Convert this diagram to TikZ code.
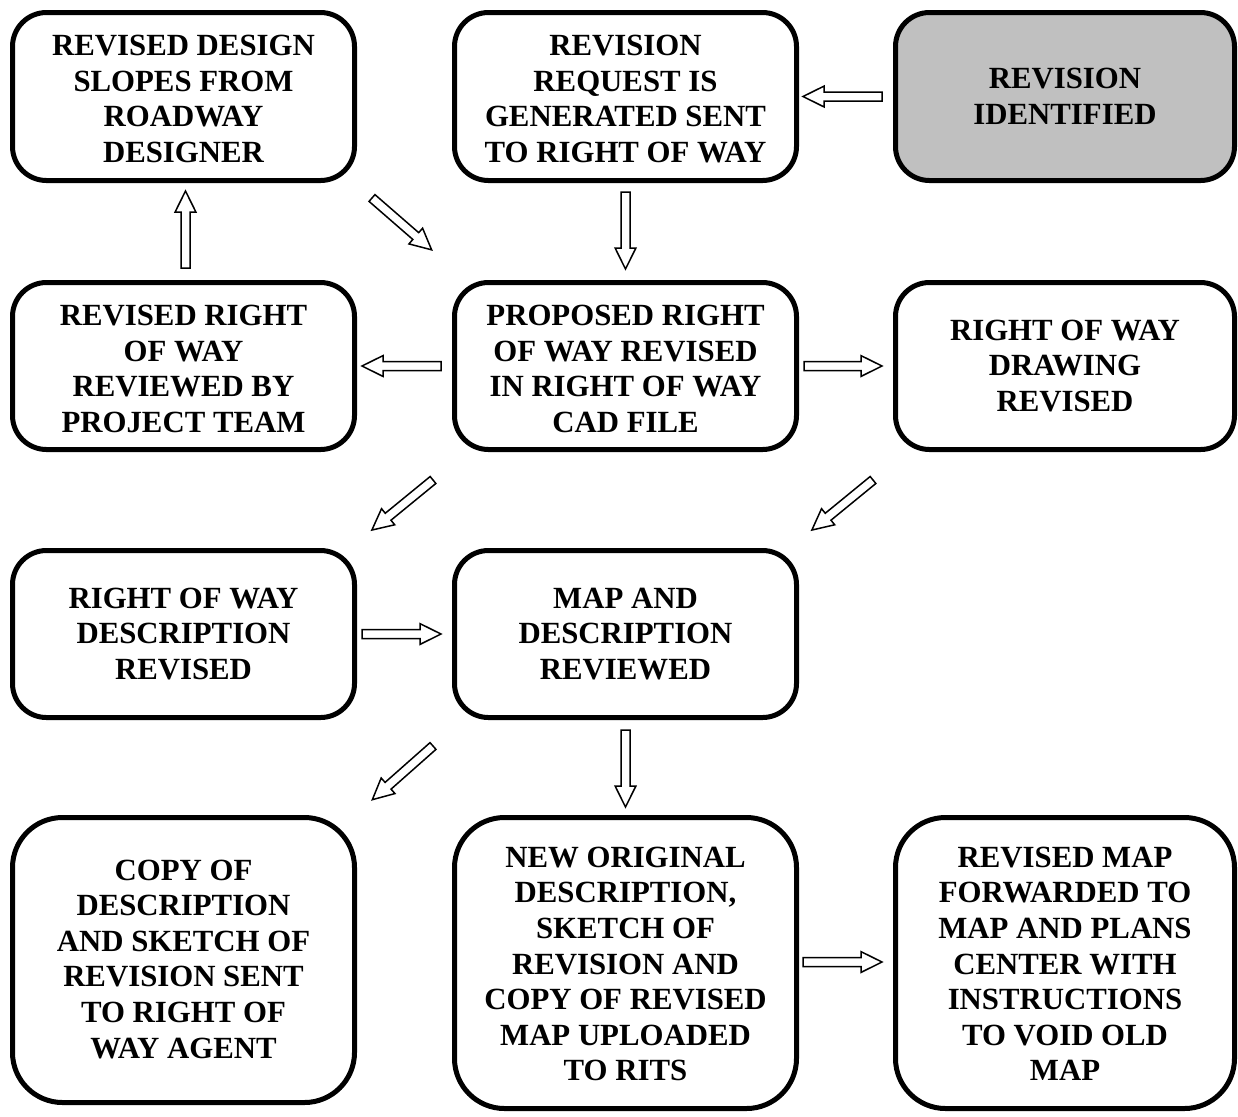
\documentclass[tikz,border=0pt]{standalone}
\usepackage{fontspec}
\setmainfont{Liberation Serif}
\usetikzlibrary{calc}
\definecolor{boxgray}{RGB}{192,192,192}
\newcommand\lowtext[2]{\raisebox{-#1}[\height][\depth]{\begin{tabular}{@{}c@{}}#2\end{tabular}}}
\tikzset{
  box/.style={draw=black, line width=2.5pt, rounded corners=17pt, fill=white,
    minimum width=171pt, minimum height=83.5pt, inner sep=0pt, align=center,
    font=\fontsize{15.4}{17.8}\selectfont\bfseries},
  tallbox/.style={box, rounded corners=25pt},
  pics/barrow/.style={code={
    \draw[line width=0.75pt, fill=white, line join=miter]
      (0pt,-2.25pt) -- ({#1-10.5pt},-2.25pt) -- ({#1-10.5pt},-5.2pt) -- (#1,0pt)
      -- ({#1-10.5pt},5.2pt) -- ({#1-10.5pt},2.25pt) -- (0pt,2.25pt) -- cycle;}}
}
\begin{document}
\begin{tikzpicture}[x=0.5pt, y=-0.5pt]
\useasboundingbox (0,0) rectangle (1238,1116);
% row 1
\node[box, minimum height=84pt] (A1) at (183.5,96.5) {\lowtext{2.6pt}{REVISED DESIGN\\SLOPES FROM\\ROADWAY\\DESIGNER}};
\node[box, minimum height=84pt] (A2) at (625.5,96.5) {\lowtext{2.6pt}{REVISION\\REQUEST IS\\GENERATED SENT\\TO RIGHT OF WAY}};
\node[box, minimum height=84pt, minimum width=169.5pt, fill=boxgray] (A3) at (1065,96.5) {REVISION\\IDENTIFIED};
% row 2
\node[box] (B1) at (183.5,366) {\lowtext{3pt}{REVISED RIGHT\\OF WAY\\REVIEWED BY\\PROJECT TEAM}};
\node[box] (B2) at (625.5,366) {\lowtext{3pt}{PROPOSED RIGHT\\OF WAY REVISED\\IN RIGHT OF WAY\\CAD FILE}};
\node[box, minimum width=169.5pt] (B3) at (1065,366) {RIGHT OF WAY\\DRAWING\\REVISED};
% row 3
\node[box] (C1) at (183.5,634) {RIGHT OF WAY\\DESCRIPTION\\REVISED};
\node[box] (C2) at (625.5,634) {MAP AND\\DESCRIPTION\\REVIEWED};
% row 4
\node[tallbox, minimum height=142.5pt] (D1) at (183.5,960) {\lowtext{1pt}{COPY OF\\DESCRIPTION\\AND SKETCH OF\\REVISION SENT\\TO RIGHT OF\\WAY AGENT}};
\node[tallbox, minimum height=145.5pt] (D2) at (625.5,963) {\lowtext{2pt}{NEW ORIGINAL\\DESCRIPTION,\\SKETCH OF\\REVISION AND\\COPY OF REVISED\\MAP UPLOADED\\TO RITS}};
\node[tallbox, minimum height=145.5pt, minimum width=169.5pt] (D3) at (1065,963) {\lowtext{2pt}{REVISED MAP\\FORWARDED TO\\MAP AND PLANS\\CENTER WITH\\INSTRUCTIONS\\TO VOID OLD\\MAP}};
% block arrows
\pic[rotate=180] at ($(A3.west)+(-11,0)$) {barrow=39.5pt};
\pic[rotate=-90] at ($(A2.south)+(0,9)$) {barrow=38.5pt};
\pic[rotate=90] at ($(B1.north)+(2,-12)$) {barrow=38.5pt};
\pic[rotate=-41] at ($(A1.south east)+(15,15)$) {barrow=39.5pt};
\pic[rotate=180] at ($(B2.west)+(-11,0)$) {barrow=39.5pt};
\pic at ($(B2.east)+(5,0)$) {barrow=39pt};
\pic[rotate=219.3] at ($(B2.south west)+(-19,28)$) {barrow=39.5pt};
\pic[rotate=219.3] at ($(B3.south west)+(-20,28)$) {barrow=39.5pt};
\pic at ($(C1.east)+(5,0)$) {barrow=39.5pt};
\pic[rotate=221.5] at ($(C2.south west)+(-19,26)$) {barrow=40.5pt};
\pic[rotate=-90] at ($(C2.south)+(0,10)$) {barrow=38.5pt};
\pic at ($(D2.east)+(4,-1)$) {barrow=39.5pt};
\end{tikzpicture}
\end{document}
